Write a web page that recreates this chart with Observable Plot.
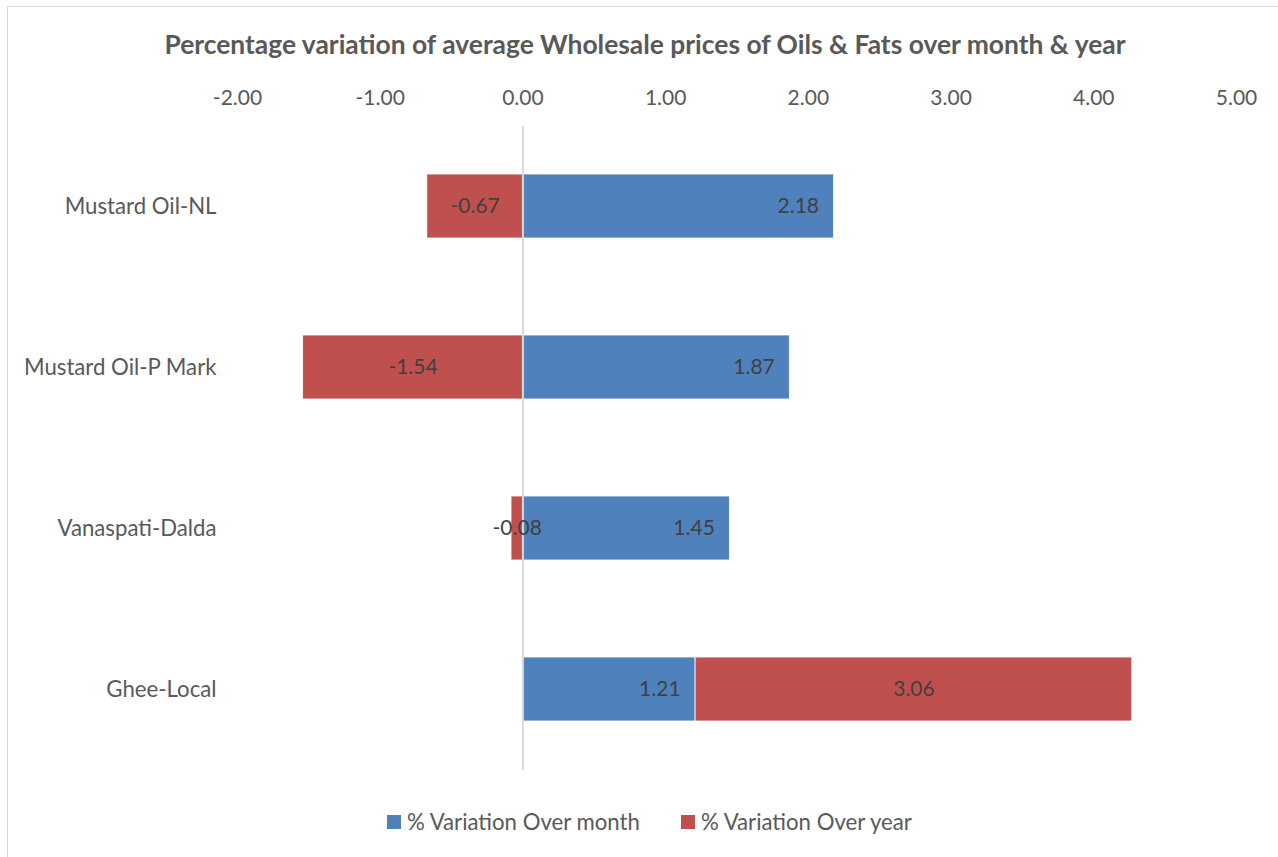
<!DOCTYPE html>
<html>
<head>
<meta charset="utf-8">
<script src="https://cdn.jsdelivr.net/npm/d3@7"></script>
<script src="https://cdn.jsdelivr.net/npm/@observablehq/plot@0.6"></script>
<style>
  html, body { margin: 0; padding: 0; background: #fff; }
  #wrap { position: relative; width: 1278px; height: 857px; overflow: hidden; font-family: Lato, "Open Sans", sans-serif; }
  #frame { position: absolute; left: 7px; top: 6px; width: 1300px; height: 900px; border-left: 1.5px solid #d9d9d9; border-top: 1.5px solid #d9d9d9; box-sizing: border-box; }
  #title { position: absolute; left: 0; width: 1290px; top: 28px; text-align: center; font-weight: bold; font-size: 26.4px; color: #595959; white-space: nowrap; }
  #chart { position: absolute; left: 0; top: 0; }
  #legend { position: absolute; top: 808px; left: 0; width: 1278px; font-size: 22.2px; color: #595959; }
  .li { position: absolute; display: flex; align-items: center; white-space: nowrap; }
  .sw { width: 14px; height: 14px; display: inline-block; margin-right: 6px; }
</style>
</head>
<body>
<div id="wrap">
  <div id="frame"></div>
  <div id="chart"></div>
  <div id="title">Percentage variation of average Wholesale prices of Oils &amp; Fats over month &amp; year</div>
  <div id="legend"></div>
</div>
<script>
const categories = ["Mustard Oil-NL", "Mustard Oil-P Mark", "Vanaspati-Dalda", "Ghee-Local"];
const overMonth = [2.18, 1.87, 1.45, 1.21];
const overYear = [-0.67, -1.54, -0.08, 3.06];
const seriesNames = ["% Variation Over month", "% Variation Over year"];
const seriesColors = ["#4F81BD", "#C0504D"];
const xTicks = [-2, -1, 0, 1, 2, 3, 4, 5];

const rows = [];
categories.forEach((c, i) => {
  rows.push({cat: c, series: seriesNames[0], value: overMonth[i]});
  rows.push({cat: c, series: seriesNames[1], value: overYear[i]});
});
const monthRows = rows.filter(d => d.series === seriesNames[0]);

const chart = Plot.plot({
  width: 1278,
  height: 857,
  marginLeft: 237,
  marginRight: 42,
  marginTop: 126,
  marginBottom: 87,
  style: {fontFamily: "Lato, 'Open Sans', sans-serif", fontSize: "21px", color: "#595959", background: "transparent"},
  x: {domain: [-2, 5], ticks: xTicks, tickFormat: d => d.toFixed(2), axis: "top", tickSize: 0, tickPadding: 22, label: null},
  y: {domain: categories, paddingInner: 0.6, paddingOuter: 0.3, label: null, axis: null},
  color: {domain: seriesNames, range: seriesColors},
  marks: [
    Plot.axisY({tickSize: 0, tickPadding: 21, fontSize: 22.2, label: null}),
    Plot.barX(rows, Plot.stackX({x: "value", y: "cat", z: "series", fill: "series", order: seriesNames, stroke: "white", strokeWidth: 0.8})),
    Plot.ruleX([0], {stroke: "#d9d9d9", strokeWidth: 2}),
    Plot.text(monthRows, {x: "value", y: "cat", text: d => d.value.toFixed(2), textAnchor: "end", dx: -15, fill: "#404040", fontSize: 21}),
    Plot.text(rows, Plot.stackX({x: "value", y: "cat", z: "series", order: seriesNames, text: d => d.series === seriesNames[1] ? d.value.toFixed(2) : null, fill: "#404040", fontSize: 21}))
  ]
});
document.getElementById("chart").appendChild(chart);

const legend = document.getElementById("legend");
const legendX = [387, 681];
seriesNames.forEach((s, i) => {
  const item = document.createElement("div");
  item.className = "li";
  item.style.left = legendX[i] + "px";
  item.innerHTML = `<span class="sw" style="background:${seriesColors[i]}"></span><span>${s}</span>`;
  legend.appendChild(item);
});
</script>
</body>
</html>
